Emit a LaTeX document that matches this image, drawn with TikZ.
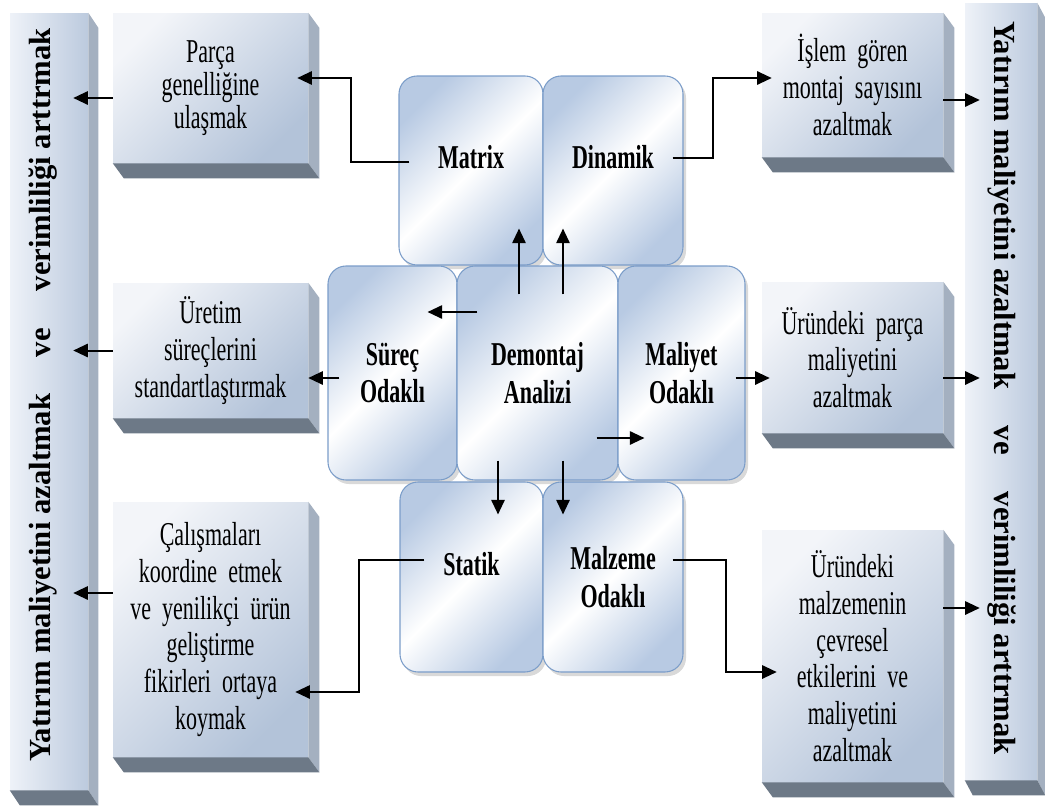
\documentclass[tikz,border=0pt]{standalone}
\usepackage{fontspec}
\setmainfont[FakeStretch=0.66, WordSpace=0.7]{Liberation Serif}
\newfontfamily\barfont{Liberation Serif}
\usetikzlibrary{arrows.meta,shadows}

\newdimen\pxu \pxu=0.75pt
\definecolor{panellight}{HTML}{F3F5F9}
\definecolor{paneldark}{HTML}{B3C3D9}
\definecolor{panelside}{HTML}{A4B0C0}
\definecolor{panelfoot}{HTML}{6D7987}
\definecolor{barlight}{HTML}{EEF2F8}
\definecolor{bardark}{HTML}{BCCADE}
\definecolor{tilerim}{HTML}{7B9DC9}
\definecolor{tileblue}{HTML}{B8CAE3}

\tikzset{
  panel/.style 2 args={inner sep=0pt, minimum width=#1\pxu, minimum height=#2\pxu,
    text width=175\pxu, align=center, top color=panellight, bottom color=paneldark,
    shading angle=45, font=\fontsize{25}{27.5}\selectfont},
  bar/.style 2 args={inner sep=0pt, minimum width=#1\pxu, minimum height=#2\pxu,
    left color=barlight, right color=bardark},
  bartext/.style={inner sep=0pt, font=\barfont\bfseries\fontsize{23}{27}\selectfont},
  tile/.style 2 args={inner sep=0pt, minimum width=#1\pxu, minimum height=#2\pxu,
    rounded corners=18\pxu, draw=tilerim, line width=0.8pt, align=center,
    top color=tileblue, bottom color=tileblue, middle color=white, shading angle=45,
    drop shadow={shadow xshift=3\pxu, shadow yshift=-4\pxu, opacity=0.3},
    font=\bfseries\fontsize{25}{28}\selectfont},
  arr/.style={-{Triangle[length=11pt,width=10pt]}, line width=1.5pt}
}

\begin{document}
\begin{tikzpicture}[x=0.75pt, y=-0.75pt]
  \useasboundingbox (0,0) rectangle (1045,810);

  % side bars
  \node[bar={78}{777}] (leftbar) at (49,401.5) {};
  \node[bar={72}{777}] (rightbar) at (1001,391.5) {};

  % left and right panels
  \node[panel={195}{150}, font=\fontsize{25}{24.5}\selectfont] (parca) at (210.5,88) {Parça\\genelliğine\\ulaşmak};
  \node[panel={195}{135}] (uretim) at (210.5,350.5) {Üretim\\süreçlerini\\standartlaştırmak};
  \node[panel={195}{255}] (calisma) at (210.5,629.5) {Çalışmaları\\koordine etmek\\ve yenilikçi ürün\\geliştirme\\fikirleri ortaya\\koymak};
  \node[panel={181}{144}] (islem) at (852.5,85) {İşlem gören\\montaj sayısını\\azaltmak};
  \node[panel={181}{151}] (parcamal) at (852.5,357.5) {Üründeki parça\\maliyetini\\azaltmak};
  \node[panel={181}{252}] (malzemecev) at (852.5,656) {Üründeki\\malzemenin\\çevresel\\etkilerini ve\\maliyetini\\azaltmak};

  \foreach \n/\dx in {parca/11,uretim/11,calisma/11,islem/11,parcamal/11,malzemecev/11,leftbar/10,rightbar/8}{
    \fill[panelside] (\n.north east) -- ++(\dx,15) -- ([shift={(\dx,15)}]\n.south east) -- (\n.south east) -- cycle;
    \fill[panelfoot] (\n.south west) -- ++(\dx,15) -- ([shift={(\dx,15)}]\n.south east) -- (\n.south east) -- cycle;
  }

  \node[bartext, rotate=90] (lefttext) at (43,395) {Yatırım maliyetini azaltmak\hspace{1.2em}ve\hspace{1.2em}verimliliği arttrmak};
  \node[bartext, rotate=-90] (righttext) at (1002,388) {Yatırım maliyetini azaltmak\hspace{1.2em}ve\hspace{1.2em}verimliliği arttrmak};

  % centre tiles
  \node[tile={144}{189}] (matrix) at (471,170.5) {Matrix\\[-8pt]\mbox{}};
  \node[tile={140}{189}] (dinamik) at (613,170.5) {Dinamik\\[-8pt]\mbox{}};
  \node[tile={129}{214}] (surec) at (392.5,373) {Süreç\\Odaklı};
  \node[tile={161}{214}] (demontaj) at (537.5,373) {Demontaj\\Analizi};
  \node[tile={127}{214}] (maliyet) at (681.5,373) {Maliyet\\Odaklı};
  \node[tile={143}{190}] (statik) at (471.5,577) {Statik\\[-8pt]\mbox{}};
  \node[tile={140}{190}] (malzeme) at (613,577) {Malzeme\\Odaklı};

  % connectors
  \draw[arr] ([shift={(-18.5,29)}]demontaj.north) -- ([shift={(48,-37)}]matrix.south);
  \draw[arr] ([shift={(25.5,29)}]demontaj.north) -- ([shift={(-50,-37)}]dinamik.south);
  \draw[arr] ([shift={(21,-61)}]demontaj.west) -- ([shift={(-30,-61)}]surec.east);
  \draw[arr] ([shift={(-22,65)}]demontaj.east) -- ([shift={(27,65)}]maliyet.west);
  \draw[arr] ([shift={(-39.5,-20)}]demontaj.south) -- ([shift={(26.5,33)}]statik.north);
  \draw[arr] ([shift={(25.5,-20)}]demontaj.south) -- ([shift={(-50,33)}]malzeme.north);

  \draw[arr] ([shift={(11,-8.5)}]matrix.west) -- ++(-58,0) |- ([shift={(-11,-10)}]parca.east);
  \draw[arr] ([shift={(-11,-12.5)}]dinamik.east) -- ++(40,0) |- ([shift={(10,-7)}]islem.west);
  \draw[arr] ([shift={(12,5)}]surec.west) -- ([shift={(0,27.5)}]uretim.east);
  \draw[arr] ([shift={(-10,5)}]maliyet.east) -- ([shift={(8,20.5)}]parcamal.west);
  \draw[arr] ([shift={(25,-17)}]statik.west) -- ++(-65,0) |- ([shift={(-13,62.5)}]calisma.east);
  \draw[arr] ([shift={(-11,-17)}]malzeme.east) -- ++(53,0) |- ([shift={(15,16)}]malzemecev.west);

  \draw[arr] ([shift={(0,10)}]parca.west) -- ([shift={(-15,-303.5)}]leftbar.east);
  \draw[arr] (uretim.west) -- ([shift={(-15,-51)}]leftbar.east);
  \draw[arr] ([shift={(0,-36.5)}]calisma.west) -- ([shift={(-15,191.5)}]leftbar.east);
  \draw[arr] ([shift={(0,15)}]islem.east) -- ([shift={(15,-291.5)}]rightbar.west);
  \draw[arr] ([shift={(0,20.5)}]parcamal.east) -- ([shift={(15,-13.5)}]rightbar.west);
  \draw[arr] ([shift={(0,-48)}]malzemecev.east) -- ([shift={(15,216.5)}]rightbar.west);
\end{tikzpicture}
\end{document}
